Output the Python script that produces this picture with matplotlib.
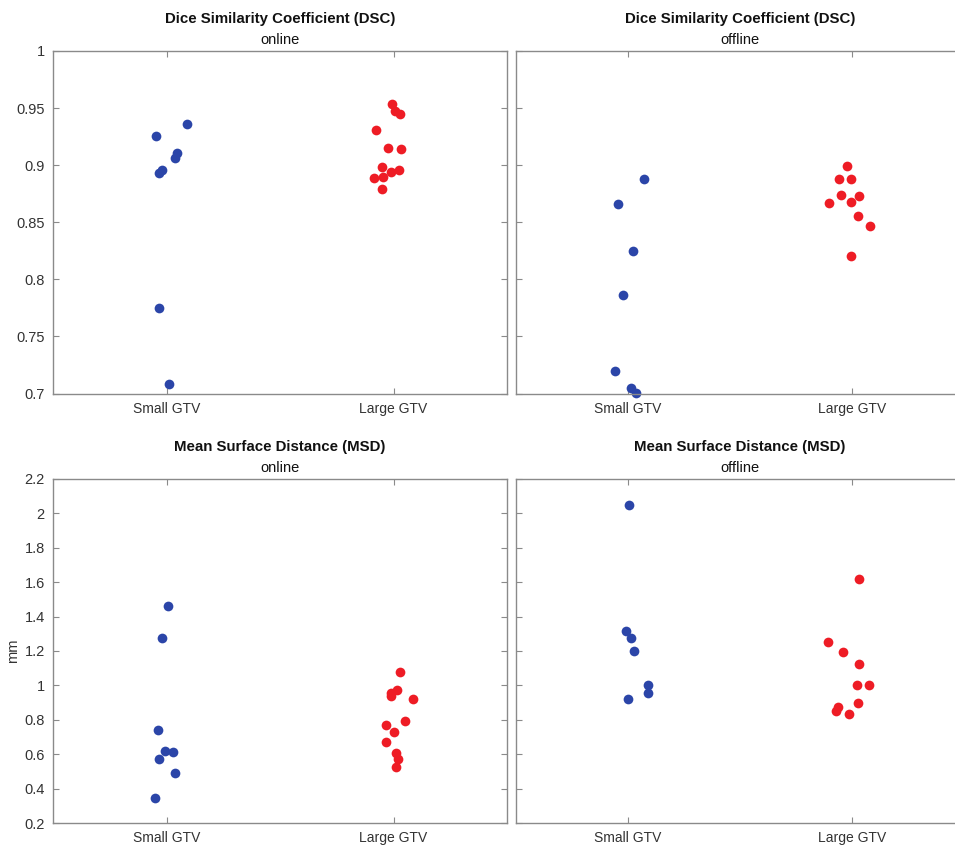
import matplotlib
matplotlib.use("Agg")
import matplotlib.pyplot as plt

plt.rcParams['font.family'] = ['Liberation Sans', 'DejaVu Sans']

categories = ["Small GTV", "Large GTV"]

# Top-left: DSC online
dsc_on_small = [0.9357, 0.9254, 0.9105, 0.9061, 0.8959, 0.8930, 0.7746, 0.7085]
dsc_on_small_jit = [0.092, -0.046, 0.045, 0.036, -0.020, -0.032, -0.032, 0.012]
dsc_on_large = [0.9532, 0.9477, 0.9450, 0.9310, 0.9146, 0.9140, 0.8985, 0.8959, 0.8944, 0.8886, 0.8892, 0.8792]
dsc_on_large_jit = [-0.007, 0.008, 0.030, -0.077, -0.023, 0.034, -0.052, 0.024, -0.011, -0.086, -0.046, -0.052]

# Top-right: DSC offline
dsc_off_small = [0.8875, 0.8657, 0.8247, 0.7864, 0.7193, 0.7045, 0.7008]
dsc_off_small_jit = [0.070, -0.045, 0.021, -0.022, -0.059, 0.015, 0.034]
dsc_off_large = [0.8997, 0.8880, 0.8880, 0.8739, 0.8730, 0.8665, 0.8677, 0.8552, 0.8465, 0.8203]
dsc_off_large_jit = [-0.021, -0.056, -0.004, -0.051, 0.031, -0.103, -0.004, 0.029, 0.080, -0.004]

# Bottom-left: MSD online
msd_on_small = [1.461, 1.277, 0.740, 0.620, 0.610, 0.571, 0.490, 0.345]
msd_on_small_jit = [0.007, -0.020, -0.036, -0.008, 0.029, -0.033, 0.036, -0.052]
msd_on_large = [1.079, 0.971, 0.957, 0.938, 0.922, 0.792, 0.771, 0.730, 0.670, 0.608, 0.570, 0.523]
msd_on_large_jit = [0.030, 0.017, -0.012, -0.011, 0.085, 0.052, -0.033, 0.004, -0.032, 0.011, 0.021, 0.011]

# Bottom-right: MSD offline
msd_off_small = [2.047, 1.316, 1.273, 1.198, 1.002, 0.957, 0.920]
msd_off_small_jit = [0.003, -0.009, 0.013, 0.029, 0.088, 0.088, -0.001]
msd_off_large = [1.616, 1.250, 1.195, 1.122, 1.000, 1.000, 0.897, 0.874, 0.852, 0.831]
msd_off_large_jit = [0.031, -0.109, -0.038, 0.031, 0.021, 0.074, 0.027, -0.064, -0.073, -0.012]

dsc_ticks = [0.7, 0.75, 0.8, 0.85, 0.9, 0.95, 1.0]
dsc_ticklabels = ["0.7", "0.75", "0.8", "0.85", "0.9", "0.95", "1"]
msd_ticks = [0.2, 0.4, 0.6, 0.8, 1.0, 1.2, 1.4, 1.6, 1.8, 2.0, 2.2]
msd_ticklabels = ["0.2", "0.4", "0.6", "0.8", "1", "1.2", "1.4", "1.6", "1.8", "2", "2.2"]

BLUE = '#2b45a8'
RED = '#ee1c25'
FRAME = '#8a8a8a'
W, H = 955, 847

fig = plt.figure(figsize=(W / 100, H / 100), dpi=100)

def make_ax(x0, x1, ytop, ybot):
    return fig.add_axes([x0 / W, (H - ybot) / H, (x1 - x0) / W, (ybot - ytop) / H])

panels = [
    (make_ax(53, 507, 51, 393.5), dsc_on_small, dsc_on_small_jit, dsc_on_large, dsc_on_large_jit,
     "Dice Similarity Coefficient (DSC)", "online", dsc_ticks, dsc_ticklabels, True, ""),
    (make_ax(516, 964, 51, 393.5), dsc_off_small, dsc_off_small_jit, dsc_off_large, dsc_off_large_jit,
     "Dice Similarity Coefficient (DSC)", "offline", dsc_ticks, dsc_ticklabels, False, ""),
    (make_ax(53, 507, 479, 823), msd_on_small, msd_on_small_jit, msd_on_large, msd_on_large_jit,
     "Mean Surface Distance (MSD)", "online", msd_ticks, msd_ticklabels, True, "mm"),
    (make_ax(516, 964, 479, 823), msd_off_small, msd_off_small_jit, msd_off_large, msd_off_large_jit,
     "Mean Surface Distance (MSD)", "offline", msd_ticks, msd_ticklabels, False, ""),
]

for ax, s_vals, s_jit, l_vals, l_jit, title, sub, yt, ytl, show_ylab, ylabel in panels:
    xs = [1 + j for j in s_jit]
    xl = [2 + j for j in l_jit]
    ax.plot(xs, s_vals, 'o', color=BLUE, markersize=7, markeredgewidth=0, clip_on=False)
    ax.plot(xl, l_vals, 'o', color=RED, markersize=7, markeredgewidth=0, clip_on=False)
    ax.set_xlim(0.5, 2.5)
    ax.set_ylim(yt[0], yt[-1])
    ax.set_xticks([1, 2])
    ax.set_xticklabels(categories, fontsize=10, color='#333333')
    ax.set_yticks(yt)
    if show_ylab:
        ax.set_yticklabels(ytl, fontsize=10.5, color='#333333')
    else:
        ax.set_yticklabels([])
    ax.tick_params(direction='in', length=4, width=0.8, color=FRAME,
                   top=True, right=True, pad=6)
    for sp in ax.spines.values():
        sp.set_color(FRAME)
        sp.set_linewidth(1.0)
    if ylabel:
        ax.set_ylabel(ylabel, fontsize=10.5, color='#333333', labelpad=3)
    ax.annotate(title, xy=(0.5, 1.0), xycoords='axes fraction', xytext=(0, 32),
                textcoords='offset pixels', ha='center', va='center',
                fontsize=10.8, fontweight='bold', color='#111111')
    ax.annotate(sub, xy=(0.5, 1.0), xycoords='axes fraction', xytext=(0, 11),
                textcoords='offset pixels', ha='center', va='center',
                fontsize=10.5, color='#111111')

fig.savefig("out.png", dpi=100)
